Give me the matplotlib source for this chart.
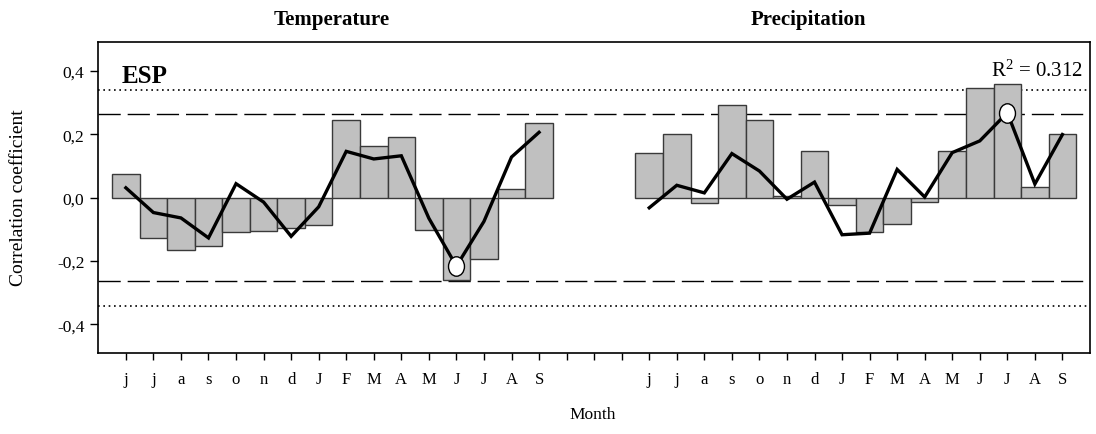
import matplotlib.pyplot as plt
import numpy as np
from matplotlib.markers import MarkerStyle
from matplotlib.transforms import Affine2D

plt.rcParams['font.family'] = ['Liberation Serif', 'DejaVu Serif']
plt.rcParams['mathtext.fontset'] = 'custom'
plt.rcParams['mathtext.rm'] = 'Liberation Serif'
plt.rcParams['mathtext.default'] = 'regular'

# month labels (June of previous year .. September of current year)
months = ['j', 'j', 'a', 's', 'o', 'n', 'd', 'J', 'F', 'M', 'A', 'M', 'J', 'J', 'A', 'S']

# bars: simple correlation, line: response function coefficients
temp_corr = [0.074, -0.127, -0.164, -0.153, -0.107, -0.105, -0.097, -0.086,
             0.245, 0.163, 0.190, -0.103, -0.261, -0.193, 0.028, 0.235]
temp_resp = [0.031, -0.047, -0.064, -0.127, 0.044, -0.014, -0.122, -0.029,
             0.146, 0.122, 0.132, -0.065, -0.216, -0.075, 0.128, 0.206]
prec_corr = [0.141, 0.201, -0.017, 0.292, 0.246, 0.006, 0.146, -0.023,
             -0.107, -0.083, -0.014, 0.148, 0.346, 0.359, 0.034, 0.201]
prec_resp = [-0.032, 0.039, 0.015, 0.139, 0.084, -0.005, 0.049, -0.117,
             -0.112, 0.089, 0.002, 0.142, 0.179, 0.268, 0.043, 0.199]

# significant response coefficients (index into months)
temp_sig = [12]
prec_sig = [13]

sig_95 = 0.264
sig_99 = 0.341
site = 'ESP'
r2_text = 'R$^{2}$ = 0.312'

n = len(months)
gap = 3
temp_x = np.arange(1, n + 1)
prec_x = np.arange(n + gap + 1, 2 * n + gap + 1)

fig = plt.figure(figsize=(10.96, 4.35), dpi=100)
ax = fig.add_axes([0.0897, 0.1862, 0.9048, 0.7143])

bar_kw = dict(width=1.0, color='#c0c0c0', edgecolor='#3a3a3a', linewidth=1.0, zorder=2)
ax.bar(temp_x, temp_corr, **bar_kw)
ax.bar(prec_x, prec_corr, **bar_kw)

ell = MarkerStyle('o', transform=Affine2D().scale(0.82, 1.0))
for xs, ys, sig in [(temp_x, temp_resp, temp_sig), (prec_x, prec_resp, prec_sig)]:
    ax.plot(xs, ys, color='black', lw=2.4, zorder=3, solid_joinstyle='miter')
    ax.plot(xs[sig], np.array(ys)[sig], ls='none', marker=ell, ms=14,
            mfc='white', mec='black', mew=1.0, zorder=4)

for v in (sig_95, -sig_95):
    ax.axhline(v, color='black', lw=1.0, dashes=(16, 5), zorder=1)
for v in (sig_99, -sig_99):
    ax.axhline(v, color='black', lw=1.2, dashes=(1, 2.2), zorder=1)

ax.set_xlim(0, 2 * n + gap + 1)
ax.set_ylim(-0.49, 0.49)

ax.set_xticks(np.arange(1, 2 * n + gap + 1))
ax.set_xticklabels(months + [''] * gap + months)
yt = [-0.4, -0.2, 0.0, 0.2, 0.4]
ax.set_yticks(yt)
ax.set_yticklabels([f'{v:.1f}'.replace('.', ',') for v in yt])
ax.tick_params(axis='x', direction='out', length=5, width=1, pad=8, labelsize=12)
ax.tick_params(axis='y', direction='out', length=6, width=1, pad=4, labelsize=12.5)
for s in ax.spines.values():
    s.set_linewidth(1.2)

ax.text(0.024, 0.93, site, transform=ax.transAxes, fontsize=18,
        fontweight='bold', va='top', ha='left')
ax.text(0.993, 0.945, r2_text, transform=ax.transAxes, fontsize=15,
        va='top', ha='right')

fig.text(0.303, 0.954, 'Temperature', fontsize=15, fontweight='bold',
         ha='center', va='center')
fig.text(0.738, 0.954, 'Precipitation', fontsize=15, fontweight='bold',
         ha='center', va='center')
fig.text(0.541, 0.046, 'Month', fontsize=12.5, ha='center', va='center')
fig.text(0.0169, 0.545, 'Correlation coefficient', fontsize=14,
         rotation=90, ha='center', va='center')

fig.savefig('out.png', dpi=100)
